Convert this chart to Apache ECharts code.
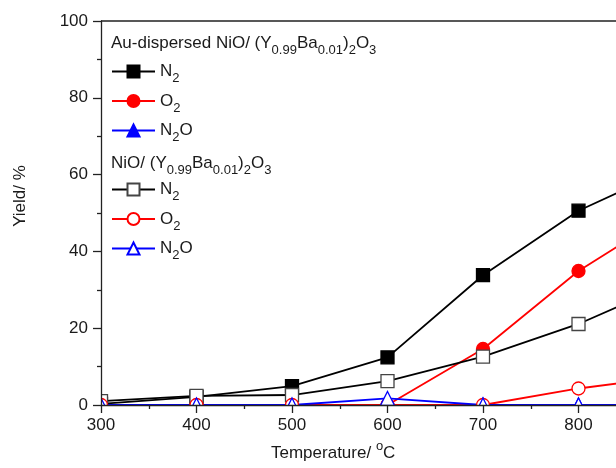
<!DOCTYPE html>
<html>
<head>
<meta charset="utf-8">
<script src="https://cdn.jsdelivr.net/npm/echarts@6/dist/echarts.min.js"></script>
<style>
  html, body { margin: 0; padding: 0; background: #fff; overflow: hidden; }
  #grafico { width: 680px; height: 468px; }
</style>
</head>
<body>
<div id="grafico"></div>
<script>
// temperatura (x) y rendimientos (%)
var temps   = [300, 400, 500, 600, 700, 800, 900];
var auN2    = [0.3, 2.1, 4.9, 12.4, 33.8, 50.6, 62.0];
var auO2    = [0, 0, 0, 0, 14.6, 34.9, 50.5];
var auN2O   = [0, 0, 0, 0, 0, 0, 0];
var nioN2   = [1.0, 2.4, 2.6, 6.2, 12.6, 21.1, 32.0];
var nioO2   = [0, 0, 0, 0, 0, 4.3, 7.5];
var nioN2O  = [0, 0, 0, 1.7, 0, 0, 0];

var xTicks = [300, 400, 500, 600, 700, 800, 900];
var yTicks = [0, 20, 40, 60, 80, 100];

var fuente = "'Liberation Sans', Arial, sans-serif";
var textoColor = '#1a1a1a';

var richSub = {
  sub: { fontSize: 13, verticalAlign: 'bottom', lineHeight: 27, fontFamily: fuente, color: textoColor },
  sup: { fontSize: 13, verticalAlign: 'top', lineHeight: 27, fontFamily: fuente, color: textoColor }
};

var etiquetas = {
  auN2: 'N{sub|2}', auO2: 'O{sub|2}', auN2O: 'N{sub|2}O',
  nioN2: 'N{sub|2}', nioO2: 'O{sub|2}', nioN2O: 'N{sub|2}O'
};

function pares(vals){
  return temps.map(function(t, i){ return [t, vals[i]]; });
}

function serie(nombre, vals, color, simbolo, lleno){
  return {
    name: nombre,
    type: 'line',
    data: pares(vals),
    symbol: simbolo,
    symbolSize: simbolo == 'triangle' ? 14 : 13,
    clip: false,
    lineStyle: { color: color, width: 1.8 },
    itemStyle: {
      color: lleno ? color : '#fff',
      borderColor: (simbolo == 'rect' && !lleno) ? '#444' : color,
      borderWidth: 1.3
    },
    emphasis: { disabled: true },
    animation: false
  };
}

function leyenda(nombres, top){
  return {
    orient: 'vertical',
    left: 111,
    top: top,
    itemWidth: 43,
    itemHeight: 15,
    itemGap: 2.5,
    padding: 0,
    data: nombres,
    formatter: function(n){ return etiquetas[n]; },
    textStyle: {
      fontSize: 17, fontFamily: fuente, color: textoColor, lineHeight: 27,
      rich: richSub
    }
  };
}

function titulo(texto, left, top){
  return {
    text: texto, left: left, top: top, padding: 0, z: 300,
    textStyle: { fontSize: 17, fontWeight: 'normal', fontFamily: fuente, color: textoColor, lineHeight: 27, rich: richSub }
  };
}

var myChart = echarts.init(document.getElementById('grafico'), null, { renderer: 'canvas' });
myChart.setOption({
  animation: false,
  grid: {
    left: 101, top: 21, bottom: 63, right: 6,
    outerBoundsMode: 'none',
    show: true, borderColor: '#222', borderWidth: 1.3, backgroundColor: 'transparent'
  },
  title: [
    titulo('Au-dispersed NiO/ (Y{sub|0.99}Ba{sub|0.01}){sub|2}O{sub|3}', 111, 29.5),
    titulo('NiO/ (Y{sub|0.99}Ba{sub|0.01}){sub|2}O{sub|3}', 111, 149.5),
    titulo('Temperature/ {sup|o}C', 271, 440)
  ],
  legend: [
    leyenda(['auN2', 'auO2', 'auN2O'], 58),
    leyenda(['nioN2', 'nioO2', 'nioN2O'], 176)
  ],
  xAxis: {
    type: 'value',
    min: 300, max: 900, interval: 100,
    z: 200,
    axisLine: { lineStyle: { color: '#222', width: 1.3 } },
    axisTick: { length: 8, lineStyle: { color: '#222', width: 1.3 } },
    minorTick: { show: true, splitNumber: 2, length: 4, lineStyle: { color: '#222', width: 1.3 } },
    splitLine: { show: false },
    axisLabel: {
      fontSize: 17, fontFamily: fuente, color: textoColor, margin: 12,
      formatter: function(v){ return xTicks.indexOf(v) >= 0 ? String(v) : ''; }
    }
  },
  yAxis: {
    type: 'value',
    min: 0, max: 100, interval: 20,
    z: 200,
    axisLine: { show: true, lineStyle: { color: '#222', width: 1.3 } },
    axisTick: { show: true, length: 8, lineStyle: { color: '#222', width: 1.3 } },
    minorTick: { show: true, splitNumber: 2, length: 4, lineStyle: { color: '#222', width: 1.3 } },
    splitLine: { show: false },
    axisLabel: {
      fontSize: 17, fontFamily: fuente, color: textoColor, margin: 13,
      formatter: function(v){ return yTicks.indexOf(v) >= 0 ? String(v) : ''; }
    }
  },
  graphic: [
    // tapa los marcadores fuera del area de trazado (recorte como el original)
    { type: 'rect', z: 100, silent: true, shape: { x: 0, y: 406, width: 680, height: 62 }, style: { fill: '#fff' } },
    { type: 'rect', z: 100, silent: true, shape: { x: 0, y: 0, width: 101, height: 468 }, style: { fill: '#fff' } },
    {
      type: 'text', z: 300, silent: true, x: 20, y: 196, rotation: Math.PI / 2,
      style: { text: 'Yield/ %', fontSize: 17, fontFamily: fuente, fill: textoColor, align: 'center', verticalAlign: 'middle' }
    }
  ],
  series: [
    serie('auN2', auN2, '#000', 'rect', true),
    serie('auO2', auO2, '#ff0000', 'circle', true),
    serie('auN2O', auN2O, '#0000ff', 'triangle', true),
    serie('nioN2', nioN2, '#000', 'rect', false),
    serie('nioO2', nioO2, '#ff0000', 'circle', false),
    serie('nioN2O', nioN2O, '#0000ff', 'triangle', false)
  ]
});
</script>
</body>
</html>
